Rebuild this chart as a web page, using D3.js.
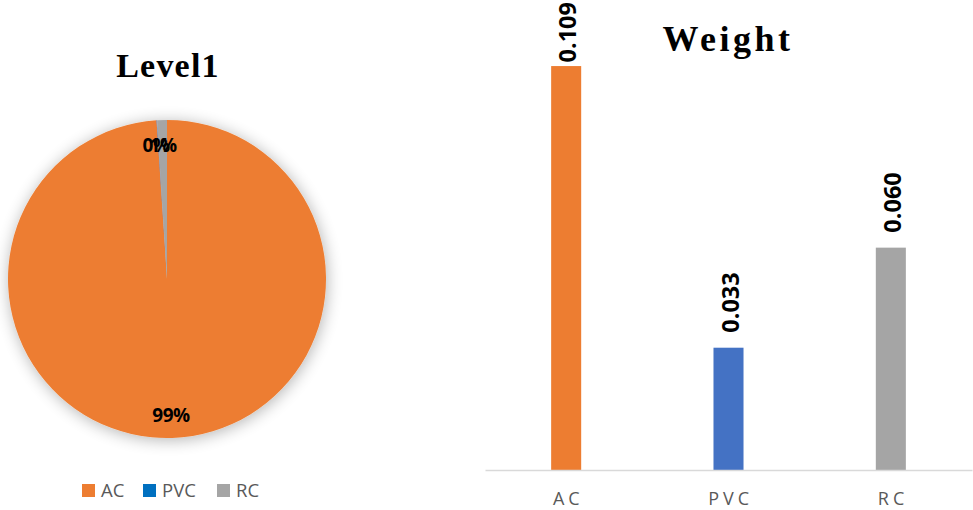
<!DOCTYPE html>
<html><head><meta charset="utf-8">
<script src="https://cdn.jsdelivr.net/npm/d3@7"></script>
<style>body{margin:0;background:#fff}svg{display:block}</style>
</head><body>
<svg id="c" width="973" height="510"></svg>
<script>
const categories = ["AC", "PVC", "RC"];
const pieValues = [98.95, 0.05, 1.0];
const pieLabels = ["99%", "0%", "1%"];
const pieColors = ["#ED7D31", "#0070C0", "#A5A5A5"];
const barValues = [0.109, 0.033, 0.060];
const barLabels = ["0.109", "0.033", "0.060"];
const barColors = ["#ED7D31", "#4472C4", "#A5A5A5"];

const svg = d3.select("#c");
const defs = svg.append("defs");
const f = defs.append("filter").attr("id","sh").attr("x","-20%").attr("y","-20%").attr("width","140%").attr("height","140%");
f.append("feGaussianBlur").attr("in","SourceAlpha").attr("stdDeviation",8);
f.append("feOffset").attr("dx",1).attr("dy",2).attr("result","b");
f.append("feComponentTransfer").append("feFuncA").attr("type","linear").attr("slope",0.3);
const m = f.append("feMerge"); m.append("feMergeNode"); m.append("feMergeNode").attr("in","SourceGraphic");

// ---- Pie ----
const cx = 167, cy = 279, r = 159;
svg.append("text").attr("x", cx + 1).attr("y", 77).attr("text-anchor","middle")
  .attr("font-family","Liberation Serif, serif").attr("font-weight","bold").attr("font-size",34)
  .attr("letter-spacing","1.2").text("Level1");
const pie = d3.pie().sort(null).value(d=>d)(pieValues);
const arc = d3.arc().innerRadius(0).outerRadius(r);
const pg = svg.append("g").attr("transform",`translate(${cx},${cy})`);
pg.append("g").attr("filter","url(#sh)").selectAll("path").data(pie).join("path")
  .attr("d", arc).attr("fill",(d,i)=>i===1?"#4472C4":pieColors[i]);
const labelPos = [[4, 136], [-11, -134], [-4, -134]];
pg.selectAll("text").data(pie).join("text")
  .attr("transform",(d,i)=>`translate(${labelPos[i][0]},${labelPos[i][1]})`)
  .attr("text-anchor","middle").attr("dy","0.35em")
  .attr("font-family","Open Sans, sans-serif").attr("font-weight","bold").attr("font-size",19)
  .attr("fill","#000").attr("letter-spacing","-0.5")
  .text((d,i)=>pieLabels[i]);

// legend
const lg = svg.append("g");
const legX = [82, 143, 217];
categories.forEach((c,i)=>{
  lg.append("rect").attr("x",legX[i]).attr("y",484).attr("width",13).attr("height",13).attr("fill",pieColors[i]);
  lg.append("text").attr("x",legX[i]+19).attr("y",497).attr("font-family","Open Sans, sans-serif")
    .attr("font-size",18.5).attr("fill","#595959").text(c);
});

// ---- Bars ----
const x = d3.scaleBand().domain(categories).range([485, 972]).paddingInner(0.815).paddingOuter(0.4075);
const y = d3.scaleLinear().domain([0, 0.12]).range([470, 25.3]);
svg.append("text").attr("x", 728).attr("y", 51).attr("text-anchor","middle")
  .attr("font-family","Liberation Serif, serif").attr("font-weight","bold").attr("font-size",36)
  .attr("letter-spacing","3.5").text("Weight");
svg.selectAll("rect.bar").data(barValues).join("rect").attr("class","bar")
  .attr("x",(d,i)=>x(categories[i])).attr("width",x.bandwidth())
  .attr("y",d=>y(d)).attr("height",d=>y(0)-y(d)).attr("fill",(d,i)=>barColors[i]);
const xa = svg.append("g").attr("transform","translate(0,470)").call(d3.axisBottom(x).tickSize(0).tickPadding(0));
xa.select(".domain").attr("stroke","#D9D9D9").attr("stroke-width",1.5);
xa.selectAll(".tick text").attr("dy",0).attr("y",35).attr("dx","0.12em").attr("font-family","Open Sans, sans-serif")
  .attr("font-size",18).attr("fill","#595959").attr("letter-spacing","4");
const bl = svg.selectAll("text.bl").data(barValues).join("text").attr("class","bl")
  .attr("text-anchor","start").attr("font-family","Open Sans, sans-serif").attr("font-weight","bold")
  .attr("font-size",23.5).attr("fill","#000").text((d,i)=>barLabels[i]);
bl.each(function(d,i){
  const len = this.getComputedTextLength();
  const end = Math.max(y(d) - 15, len + 2);
  d3.select(this).attr("transform",`translate(${x(categories[i])+x.bandwidth()/2+10},${end}) rotate(-90)`);
});
</script>
</body></html>
